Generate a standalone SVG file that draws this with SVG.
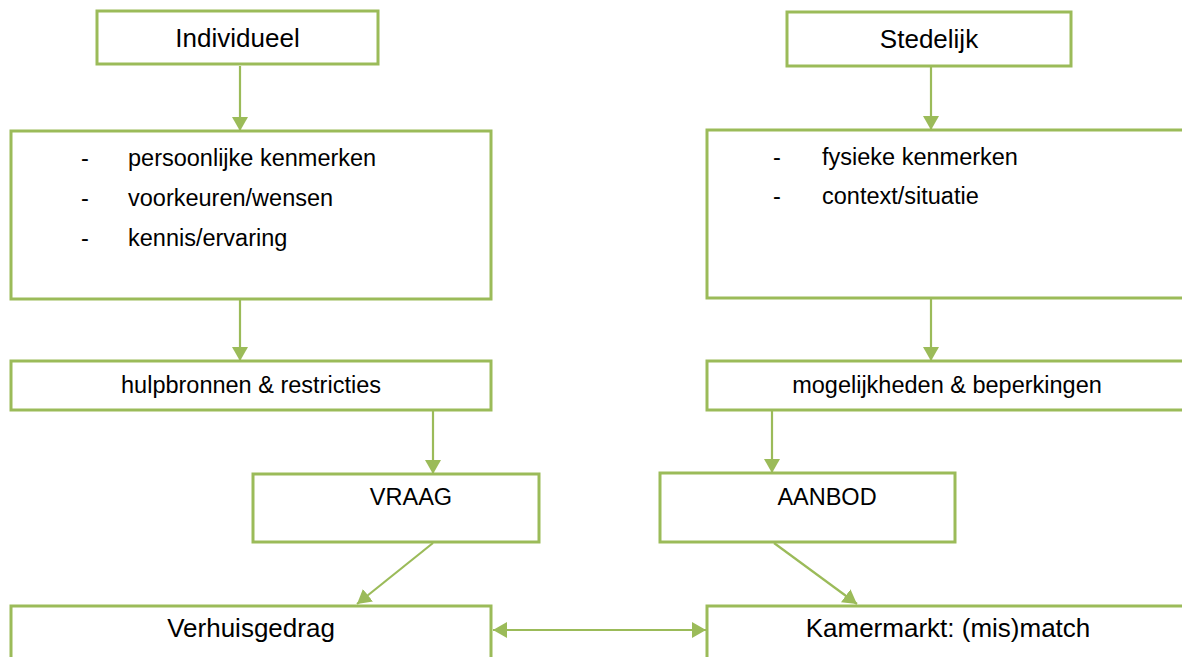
<svg xmlns="http://www.w3.org/2000/svg" width="1182" height="657" viewBox="0 0 1182 657">
<style>
.box{fill:#fff;stroke:#9BBB59;stroke-width:3}
.ln{fill:none;stroke:#9BBB59;stroke-width:2.2}
.big{font-family:"Liberation Sans",Arial,sans-serif;font-size:26px;fill:#000}
.mid{font-family:"Liberation Sans",Arial,sans-serif;font-size:23.5px;fill:#000}
</style>
<defs>
<marker id="ah" markerWidth="14" markerHeight="16" refX="14" refY="8" orient="auto-start-reverse" markerUnits="userSpaceOnUse">
<path d="M0,0 L14,8 L0,16 z" fill="#9BBB59"/>
</marker>
</defs>
<rect width="1182" height="657" fill="#fff"/>
<g id="connectors">
<line class="ln" x1="240" y1="66" x2="240" y2="131" marker-end="url(#ah)"/>
<line class="ln" x1="931" y1="67" x2="931" y2="130" marker-end="url(#ah)"/>
<line class="ln" x1="240" y1="300" x2="240" y2="361" marker-end="url(#ah)"/>
<line class="ln" x1="931" y1="299" x2="931" y2="361" marker-end="url(#ah)"/>
<line class="ln" x1="433" y1="411" x2="433" y2="474" marker-end="url(#ah)"/>
<line class="ln" x1="772" y1="411" x2="772" y2="473" marker-end="url(#ah)"/>
<line class="ln" x1="433" y1="543" x2="357" y2="604" marker-end="url(#ah)"/>
<line class="ln" x1="774" y1="543" x2="857" y2="604" marker-end="url(#ah)"/>
<line class="ln" x1="493" y1="630" x2="706" y2="630" marker-start="url(#ah)" marker-end="url(#ah)"/>
</g>
<g id="individueel">
<rect class="box" x="97" y="11" width="281" height="53"/>
<text class="big" x="237.5" y="47" text-anchor="middle">Individueel</text>
</g>
<g id="stedelijk">
<rect class="box" x="787" y="12" width="284" height="54"/>
<text class="big" x="929" y="48" text-anchor="middle">Stedelijk</text>
</g>
<g id="individueel-kenmerken">
<rect class="box" x="11" y="131" width="480" height="168"/>
<text class="mid" x="81" y="166">-</text>
<text class="mid" x="128" y="166">persoonlijke kenmerken</text>
<text class="mid" x="81" y="206">-</text>
<text class="mid" x="128" y="206">voorkeuren/wensen</text>
<text class="mid" x="81" y="246">-</text>
<text class="mid" x="128" y="246">kennis/ervaring</text>
</g>
<g id="stedelijk-kenmerken">
<rect class="box" x="707" y="130" width="481" height="168"/>
<text class="mid" x="773" y="165">-</text>
<text class="mid" x="822" y="165">fysieke kenmerken</text>
<text class="mid" x="773" y="204">-</text>
<text class="mid" x="822" y="204">context/situatie</text>
</g>
<g id="hulpbronnen">
<rect class="box" x="11" y="361" width="480" height="49"/>
<text class="mid" x="251" y="393" text-anchor="middle">hulpbronnen &amp; restricties</text>
</g>
<g id="mogelijkheden">
<rect class="box" x="707" y="361" width="481" height="49"/>
<text class="mid" x="947" y="393" text-anchor="middle">mogelijkheden &amp; beperkingen</text>
</g>
<g id="vraag">
<rect class="box" x="253" y="474" width="286" height="68"/>
<text class="mid" x="411" y="505" text-anchor="middle">VRAAG</text>
</g>
<g id="aanbod">
<rect class="box" x="660" y="473" width="295" height="69"/>
<text class="mid" x="827" y="505" text-anchor="middle">AANBOD</text>
</g>
<g id="verhuisgedrag">
<rect class="box" x="11" y="606" width="480" height="53"/>
<text class="big" x="251" y="637" text-anchor="middle">Verhuisgedrag</text>
</g>
<g id="kamermarkt">
<rect class="box" x="707" y="606" width="481" height="53"/>
<text class="big" x="948" y="637" text-anchor="middle">Kamermarkt: (mis)match</text>
</g>
</svg>
